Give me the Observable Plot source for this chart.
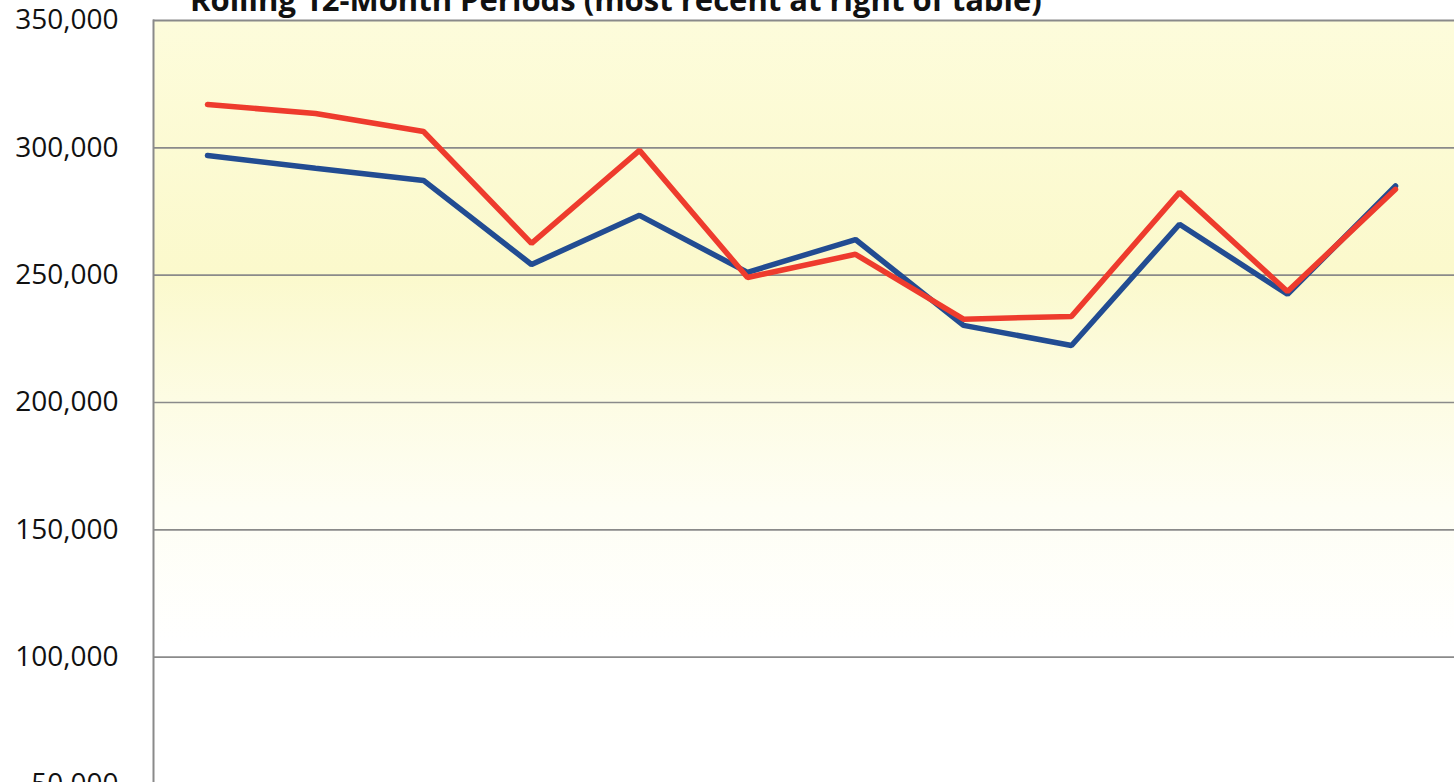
<!DOCTYPE html>
<html>
<head>
<meta charset="utf-8">
<script src="https://cdn.jsdelivr.net/npm/d3@7"></script>
<script src="https://cdn.jsdelivr.net/npm/@observablehq/plot@0.6"></script>
<style>
  html, body { margin: 0; padding: 0; background: #fff; overflow: hidden; }
  #wrap { position: relative; width: 1454px; height: 782px; }
  #title { position: absolute; left: 190px; top: -16px; font-family: "Open Sans", sans-serif; font-weight: 700; font-size: 31px; color: #111; white-space: nowrap; line-height: 1; z-index: 2; }
</style>
</head>
<body>
<div id="wrap">
  <div id="title">Rolling 12-Month Periods (most recent at right of table)</div>
  <div id="chart"></div>
</div>
<script>
const periods = ["P1","P2","P3","P4","P5","P6","P7","P8","P9","P10","P11","P12"];
const blueValues = [297000, 292000, 287200, 254200, 273500, 251100, 264000, 230300, 222400, 270000, 242500, 285000];
const redValues  = [317000, 313500, 306400, 262500, 299000, 249100, 258200, 232700, 233800, 282500, 243600, 283700];
const yTicks = [50000, 100000, 150000, 200000, 250000, 300000, 350000];
const gridTicks = [100000, 150000, 200000, 250000, 300000];

const data = [
  ...periods.map((p, i) => ({period: p, value: blueValues[i], series: "Blue series"})),
  ...periods.map((p, i) => ({period: p, value: redValues[i], series: "Red series"}))
];

const chart = Plot.plot({
  width: 1454,
  height: 782,
  marginLeft: 153,
  marginTop: 20,
  marginRight: 0,
  marginBottom: 0,
  style: {background: "transparent", overflow: "visible"},
  x: {type: "point", domain: periods, range: [206, 1395], padding: 0, axis: null},
  y: {domain: [50000, 350000], range: [784, 20], axis: null},
  color: {domain: ["Blue series", "Red series"], range: ["#224c92", "#ee3b2d"]},
  marks: [
    Plot.frame({fill: "url(#bggrad)", stroke: "none"}),
    Plot.ruleY(gridTicks, {stroke: "#8a8a8a", strokeWidth: 1.6}),
    Plot.ruleY([350000], {stroke: "#8a8a8a", strokeWidth: 1.8}),
    Plot.frame({anchor: "left", stroke: "#8a8a8a", strokeWidth: 2}),
    Plot.axisY(yTicks, {
      anchor: "left",
      tickSize: 0,
      tickPadding: 35,
      tickFormat: d3.format(","),
      fontSize: 28,
      fontFamily: "Open Sans",
      fill: "#111",
      label: null
    }),
    Plot.line(data, {x: "period", y: "value", z: "series", stroke: "series", strokeWidth: 5.5, strokeLinejoin: "miter", strokeLinecap: "round"})
  ]
});

const ns = "http://www.w3.org/2000/svg";
const defs = document.createElementNS(ns, "defs");
defs.innerHTML = `<linearGradient id="bggrad" x1="0" y1="0" x2="0" y2="1">
  <stop offset="0" stop-color="#fdfcdb"/>
  <stop offset="0.33" stop-color="#fbf9cc"/>
  <stop offset="0.5" stop-color="#fdfce4"/>
  <stop offset="0.64" stop-color="#fefef4"/>
  <stop offset="0.82" stop-color="#ffffff"/>
  <stop offset="1" stop-color="#ffffff"/>
</linearGradient>`;
chart.insertBefore(defs, chart.firstChild);
document.getElementById("chart").appendChild(chart);
</script>
</body>
</html>
